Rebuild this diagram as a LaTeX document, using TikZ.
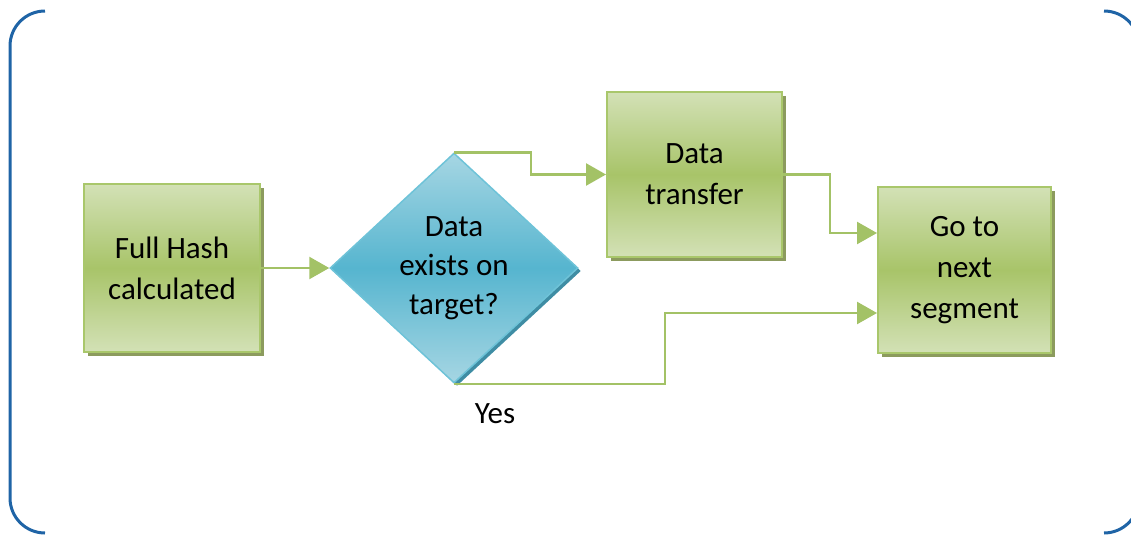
\documentclass[tikz,border=0pt]{standalone}
\usepackage{fontspec}
\setmainfont{Carlito}
\usetikzlibrary{shapes.geometric,arrows.meta,shadows}

\definecolor{frameblue}{HTML}{1F64A6}
\definecolor{boxline}{HTML}{A9C76B}
\definecolor{boxlight}{HTML}{D3E1B6}
\definecolor{boxmid}{HTML}{A8C469}
\definecolor{boxshadow}{HTML}{8C9B5E}
\definecolor{arrowgreen}{HTML}{A3C266}
\definecolor{diaborder}{HTML}{6EC3D8}
\definecolor{dialight}{HTML}{A6D6E3}
\definecolor{diamid}{HTML}{56B5CF}
\definecolor{diashadow}{HTML}{3F8DA4}

\tikzset{
  frame/.style={draw=frameblue, line width=3pt, rounded corners=35pt},
  stepbox/.style={rectangle, draw=boxline, line width=2pt, inner sep=0pt,
    top color=boxlight, bottom color=boxlight, middle color=boxmid,
    align=center, font=\fontsize{31}{41}\selectfont,
    drop shadow={shadow xshift=4pt, shadow yshift=-4pt, opacity=1, fill=boxshadow}},
  decision/.style={diamond, draw=diaborder, line width=1.5pt, inner sep=0pt,
    minimum width=248pt, minimum height=230pt,
    top color=dialight, bottom color=dialight, middle color=diamid,
    align=center, font=\fontsize{31}{39}\selectfont,
    drop shadow={shadow xshift=3pt, shadow yshift=-3pt, opacity=1, fill=diashadow}},
  conn/.style={draw=arrowgreen, line width=2.5pt,
    -{Triangle[length=20pt,width=22pt,fill=arrowgreen]}},
  lbl/.style={font=\fontsize{31}{41}\selectfont}
}

\begin{document}
\begin{tikzpicture}[x=1pt,y=-1pt]
  \useasboundingbox (0,0) rectangle (1131,535);

  % bracket-shaped frame
  \begin{scope}
    \clip (0,0) rectangle (1131,535);
    \draw[frame] (45,11) -- (10,11) -- (10,533) -- (45,533);
    \draw[frame] (1104,11) -- (1139,11) -- (1139,533) -- (1104,533);
  \end{scope}

  % process steps
  \node[stepbox, minimum width=176pt, minimum height=168pt] (hash) at (172,268)
    {Full Hash\\calculated};
  \node[decision] (dec) at (454,268) {Data\\exists on\\target?};
  \node[stepbox, minimum width=175pt, minimum height=165pt] (xfer) at (694.5,174.5)
    {Data\\transfer};
  \node[stepbox, minimum width=173pt, minimum height=166pt] (next) at (964.5,270)
    {Go to\\next\\segment};

  % connectors
  \draw[conn] (hash.east) -- (dec.west);
  \draw[conn] (dec.north) -- ++(77,0) |- (xfer.west);
  \draw[conn] (xfer.east) -- ++(47,0) |- ([yshift=37pt]next.west);
  \draw[conn] (dec.south) -- ++(211,0) |- ([yshift=-43pt]next.west);

  \node[lbl] (yes) at (495,414) {Yes};
\end{tikzpicture}
\end{document}
